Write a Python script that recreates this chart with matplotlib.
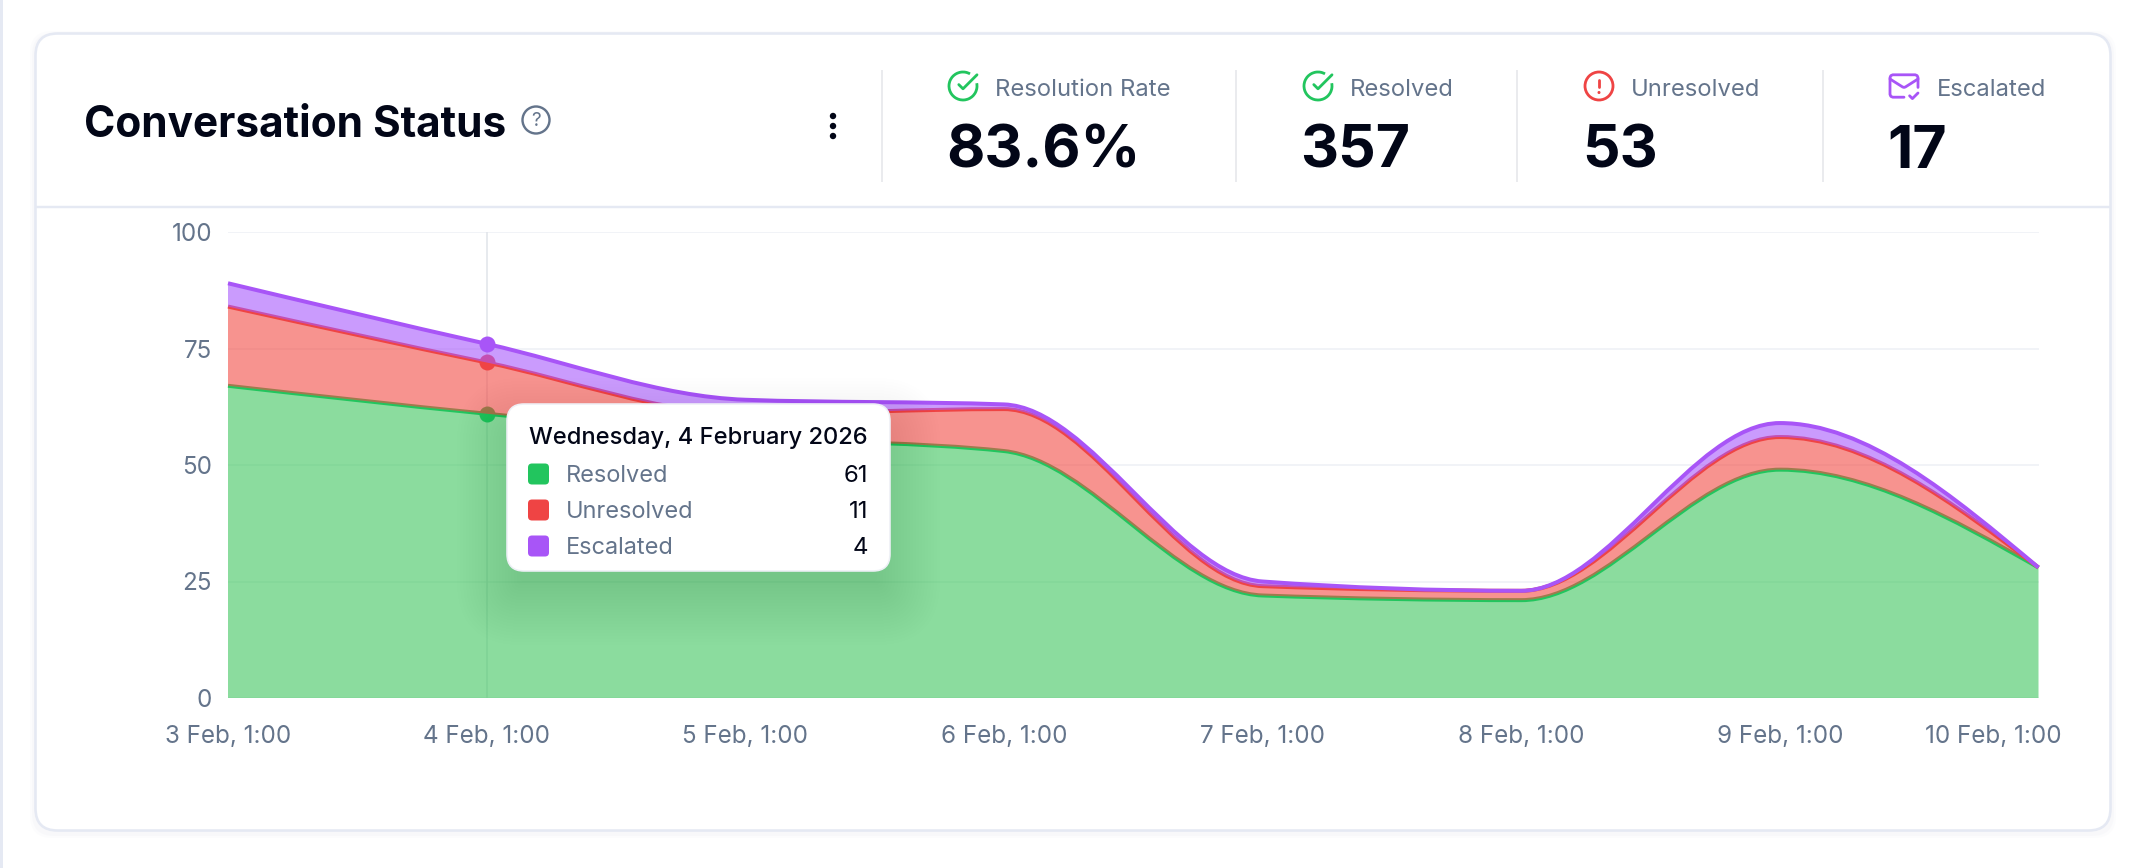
import numpy as np
import matplotlib
matplotlib.use("Agg")
import matplotlib.pyplot as plt
from matplotlib.path import Path
from matplotlib.patches import PathPatch, FancyBboxPatch, Circle, Arc, Rectangle
from matplotlib.transforms import ScaledTranslation

plt.rcParams['font.family'] = ['Inter', 'DejaVu Sans']

# ---- data ----
tick_labels = ['3 Feb, 1:00', '4 Feb, 1:00', '5 Feb, 1:00', '6 Feb, 1:00',
               '7 Feb, 1:00', '8 Feb, 1:00', '9 Feb, 1:00', '10 Feb, 1:00']
resolved = [67, 61, 56, 53, 22, 21, 49, 28]
unresolved = [17, 11, 5, 9, 2, 2, 7, 0]
escalated = [5, 4, 3, 1, 1, 0, 3, 0]
y_ticks = [0, 25, 50, 75, 100]
title = 'Conversation Status'
kpi_labels = ['Resolution Rate', 'Resolved', 'Unresolved', 'Escalated']
kpi_values = ['83.6%', '357', '53', '17']
tip_title = 'Wednesday, 4 February 2026'
tip_names = ['Resolved', 'Unresolved', 'Escalated']
hover_index = 1

# ---- styles ----
W, H = 2144, 868
GREEN, RED, PURPLE = '#22c55e', '#ef4444', '#a855f7'
FILLS = ['#3EC65D', '#F34B44', '#A858FC']
FILL_ALPHA = 0.6
INK, SLATE = '#020617', '#64748b'
BORDER = '#e5e9f3'
PX = 0.72


def monotone_tangents(y):
    y = np.asarray(y, float)
    s = np.diff(y)
    t = np.zeros_like(y)
    for i in range(1, len(y) - 1):
        p = (s[i - 1] + s[i]) / 2
        t[i] = (np.sign(s[i - 1]) + np.sign(s[i])) * min(abs(s[i - 1]), abs(s[i]), 0.5 * abs(p))
    t[0] = (3 * s[0] - t[1]) / 2
    t[-1] = (3 * s[-1] - t[-2]) / 2
    return t


def bezier_segments(y):
    t = monotone_tangents(y)
    verts = []
    for i in range(len(y) - 1):
        verts += [(i + 1 / 3, y[i] + t[i] / 3), (i + 2 / 3, y[i + 1] - t[i + 1] / 3), (i + 1, y[i + 1])]
    return verts


def curve_path(y):
    v = [(0, y[0])] + bezier_segments(y)
    return Path(v, [Path.MOVETO] + [Path.CURVE4] * (len(v) - 1))


def band_path(top, bottom):
    vt = [(0, top[0])] + bezier_segments(top)
    vb = [(0, bottom[0])] + bezier_segments(bottom)
    v = vt + [vb[-1]] + vb[-2::-1] + [vt[0]]
    c = [Path.MOVETO] + [Path.CURVE4] * (len(vt) - 1) + [Path.LINETO] + \
        [Path.CURVE4] * (len(vb) - 1) + [Path.CLOSEPOLY]
    return Path(v, c)


fig = plt.figure(figsize=(W / 100, H / 100), dpi=100, facecolor='white')


def pixel_axes(z):
    a = fig.add_axes([0, 0, 1, 1], zorder=z)
    a.set_xlim(0, W)
    a.set_ylim(H, 0)
    a.axis('off')
    a.patch.set_alpha(0)
    return a


bg = pixel_axes(0)
fg = pixel_axes(2)

# ---- card ----
bg.add_patch(Rectangle((0, 0), 2.5, H, fc=BORDER, ec='none'))
for d, al in [(5, .05), (3, .08)]:
    bg.add_patch(FancyBboxPatch((35, 36), 2076, 797, boxstyle=f'round,pad={d},rounding_size=22',
                                fc='#cbd5e1', ec='none', alpha=al))
bg.add_patch(FancyBboxPatch((35.5, 33.5), 2075, 797, boxstyle='round,pad=0,rounding_size=22',
                            fc='white', ec=BORDER, lw=2.6 * PX))
bg.plot([36, 2110], [207, 207], color=BORDER, lw=2.4 * PX, solid_capstyle='butt')
for x in [882, 1236, 1517, 1823]:
    bg.plot([x, x], [70, 182], color='#e5e7eb', lw=1.6 * PX, solid_capstyle='butt')

# header
bg.text(84, 137, title, fontsize=42.3 * PX, fontweight='bold', color=INK, va='baseline', ha='left')
bg.add_patch(Circle((536, 120), 13.5, fc='none', ec=SLATE, lw=2.4 * PX))
bg.text(536, 120.5, '?', fontsize=19 * PX, color=SLATE, ha='center', va='center')
for yy in (116, 126, 136):
    bg.add_patch(Circle((833, yy), 3.2, fc=INK, ec='none'))

# KPIs
label_x = [995, 1350, 1631, 1937]
value_x = [946, 1300, 1582, 1887]
for s, x in zip(kpi_labels, label_x):
    bg.text(x, 95.5, s, fontsize=23.8 * PX, color=SLATE, ha='left', va='baseline')
for s, x in zip(kpi_values, value_x):
    bg.text(x, 168, s, fontsize=59 * PX, fontweight='bold', color=INK, ha='left', va='baseline')

IC = 1.4
ILW = 2.8 * PX


def check_icon(cx, cy, col):
    bg.add_patch(Arc((cx, cy), 20 * IC, 20 * IC, theta1=-11.5, theta2=300, color=col, lw=ILW))
    bg.plot([cx - 3 * IC, cx, cx + 10 * IC], [cy - IC, cy + 2 * IC, cy - 8 * IC], color=col, lw=ILW,
            solid_capstyle='round', solid_joinstyle='round')


check_icon(963, 86, GREEN)
check_icon(1318, 86, GREEN)
bg.add_patch(Circle((1599, 86), 14, fc='none', ec=RED, lw=ILW))
bg.plot([1599, 1599], [80, 87], color=RED, lw=ILW, solid_capstyle='round')
bg.add_patch(Circle((1599, 92.5), 1.5, fc=RED, ec='none'))


def mail(u, v):
    return 1904 + (np.asarray(u, float) - 12) * IC, 86 + (np.asarray(v, float) - 12) * IC


bg.plot(*mail([22, 22, 21.4, 20, 4, 2.6, 2, 2, 2.6, 4, 12], [13, 6, 4.6, 4, 4, 4.6, 6, 18, 19.4, 20, 20]),
        color=PURPLE, lw=ILW, solid_joinstyle='round', solid_capstyle='round')
bg.plot(*mail([22, 13, 12, 11, 2], [7, 12.7, 13, 12.7, 7]), color=PURPLE, lw=ILW,
        solid_joinstyle='round', solid_capstyle='round')
bg.plot(*mail([16, 18, 22], [19, 21, 17]), color=PURPLE, lw=ILW,
        solid_capstyle='round', solid_joinstyle='round')

# ---- chart ----
x_left, x_right, y_top, y_base = 228, 2038.5, 232, 698
ax = fig.add_axes([x_left / W, 1 - y_base / H, (x_right - x_left) / W, (y_base - y_top) / H], zorder=1)
ax.patch.set_alpha(0)
ax.set_xlim(0, len(tick_labels) - 1)
ax.set_ylim(0, 100)
for sp in ax.spines.values():
    sp.set_visible(False)
ax.set_yticks(y_ticks)
ax.set_xticks(range(len(tick_labels)))
ax.set_xticklabels(tick_labels)
ax.tick_params(length=0, labelsize=24.2 * PX, labelcolor=SLATE)
ax.tick_params(axis='x', pad=27 * PX)
ax.tick_params(axis='y', pad=16 * PX)
last = ax.get_xticklabels()[-1]
last.set_transform(last.get_transform() + ScaledTranslation(-45 / 100, 0, fig.dpi_scale_trans))
ax.yaxis.grid(True, color='#f1f3f7', lw=2 * PX)
for gl in ax.get_ygridlines():
    gl.set_solid_capstyle('butt')
ax.set_axisbelow(True)
ax.axvline(hover_index, color='#e2e5ea', lw=1.6 * PX, zorder=1.5)

base = np.zeros(len(resolved))
top1 = np.array(resolved, float)
top2 = top1 + np.array(unresolved)
top3 = top2 + np.array(escalated)
layers = [(top1, base, FILLS[0], GREEN), (top2, top1, FILLS[1], RED), (top3, top2, FILLS[2], PURPLE)]
for i, (t, b, fc, lc) in enumerate(layers):
    z = 2 + i
    ax.add_patch(PathPatch(band_path(t, b), fc=fc, ec='none', alpha=FILL_ALPHA, zorder=z))
    ax.add_patch(PathPatch(curve_path(t), fc='none', ec=lc, lw=4 * PX, capstyle='butt', zorder=z + 0.1,
                           clip_on=False))
    ax.plot([hover_index], [t[hover_index]], 'o', ms=16 * PX, mfc=lc, mec='none', zorder=z + 0.2, clip_on=False)

# ---- tooltip ----
tx0, tx1, ty0, ty1 = 507, 890, 404, 571
for d in np.arange(50, -16, -3.0):
    fg.add_patch(FancyBboxPatch((tx0 - d, ty0 + 24 - d), tx1 - tx0 + 2 * d, ty1 - ty0 + 2 * d,
                                boxstyle=f'round,pad=0,rounding_size={max(14 + d, 4)}',
                                fc='#0f172a', ec='none', alpha=0.004))
fg.add_patch(FancyBboxPatch((tx0, ty0), tx1 - tx0, ty1 - ty0, boxstyle='round,pad=0,rounding_size=17',
                            fc='white', ec='#eef0f6', lw=1.6 * PX))
fg.text(529, 444, tip_title, fontsize=23.7 * PX, fontweight='medium', color=INK, ha='left', va='baseline')
tip_vals = [resolved[hover_index], unresolved[hover_index], escalated[hover_index]]
for name, val, col, yy in zip(tip_names, tip_vals, [GREEN, RED, PURPLE], [474, 510, 546]):
    fg.add_patch(FancyBboxPatch((528, yy - 10.5), 21, 21, boxstyle='round,pad=0,rounding_size=4', fc=col, ec='none'))
    fg.text(565.5, yy + 8.5, name, fontsize=23.5 * PX, color=SLATE, ha='left', va='baseline')
    fg.text(868, yy + 8.5, str(val), fontsize=24 * PX, color=INK, ha='right', va='baseline')

fig.savefig('out.png', dpi=100, facecolor='white')
